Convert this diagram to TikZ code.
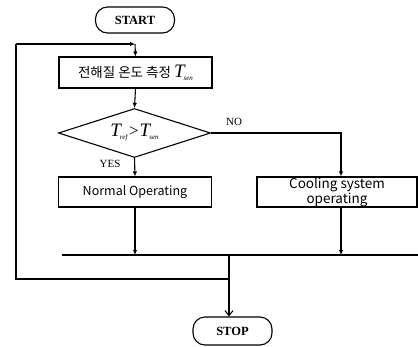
\documentclass[tikz,border=0pt]{standalone}
\usepackage{fontspec}
\setmainfont{Liberation Serif}
\newfontfamily\krfont{Noto Sans CJK KR}
\usetikzlibrary{shapes.geometric,arrows.meta}
% italic symbol T with a small italic subscript
\newcommand{\Tsym}[1]{{\rmfamily\fontsize{19}{19}\selectfont\itshape T}\kern-1pt\raisebox{-3pt}{\rmfamily\fontsize{7}{7}\selectfont\itshape #1}}
\tikzset{
  every picture/.style={line width=1.1pt},
  term/.style={draw, rounded corners=12pt, minimum width=79pt, minimum height=26pt,
    inner sep=0pt, font=\bfseries\fontsize{12.5}{13}\selectfont},
  proc/.style={draw, rectangle, minimum width=153pt, minimum height=30pt, inner sep=0pt,
    font=\krfont\fontsize{12.5}{13}\selectfont},
  dec/.style={draw, diamond, aspect=3, minimum width=152pt, minimum height=49pt, inner sep=0pt},
  lbl/.style={font=\fontsize{11}{12}\selectfont, inner sep=0pt},
  arr/.style={-{Latex[length=5pt,width=4.5pt]}},
  openarr/.style={-{Straight Barb[length=5pt,width=8pt]}},
  bus/.style={line width=2.4pt}
}
\begin{document}
\begin{tikzpicture}[x=1pt,y=-1pt]
\useasboundingbox (0,0) rectangle (418,346);
% terminals and process boxes
\node[term] (start) at (135,20) {START};
\node[proc, minimum height=31pt, font=\krfont\fontsize{13.5}{14}\selectfont] (meas) at (135.5,72.5)
  {전해질 온도 측정 \Tsym{sen}};
\node[dec] (dec) at (134.5,133)
  {\Tsym{ref}\,{\rmfamily\fontsize{17}{17}\selectfont>}\kern1pt\Tsym{sen}};
\node[proc] (normal) at (135,192) {Normal Operating};
\node[proc, minimum width=160pt, font=\krfont\fontsize{13.5}{13}\selectfont,
  align=center] (cool) at (337,192) {Cooling system\\operating};
\node[term, minimum height=28pt] (stop) at (232.5,331) {STOP};
% branch labels
\node[lbl] (no) at (234,122) {NO};
\node[lbl] (yes) at (110,164) {YES};
% helper points of the loop and the collecting bar
\coordinate (barL) at (62,255);
\coordinate (barR) at (418,255);
\coordinate (j) at (229,255);
\coordinate (loopJ) at (229,279);
\coordinate (loopBL) at (16,279);
\coordinate (loopTL) at (16,44);
\coordinate (entry) at (135,44);
\coordinate (turn) at (341,133);
% connectors
\draw[arr] (loopTL) -- (entry);
\draw[arr] (entry) -- (meas.north);
\draw[arr] (meas.south) -- (dec.north);
\draw[arr] (dec.south) -- (normal.north);
\draw[arr] (dec.east) -- (turn) -- (turn |- cool.north);
\draw[bus] (barL) -- (barR);
\draw[arr] (normal.south) -- (normal.south |- barL);
\draw[arr] (cool.south -| turn) -- (turn |- barL);
\draw[openarr] (j) -- (j |- stop.north);
\draw (loopJ) -- (loopBL) -- (loopTL);
\end{tikzpicture}
\end{document}
